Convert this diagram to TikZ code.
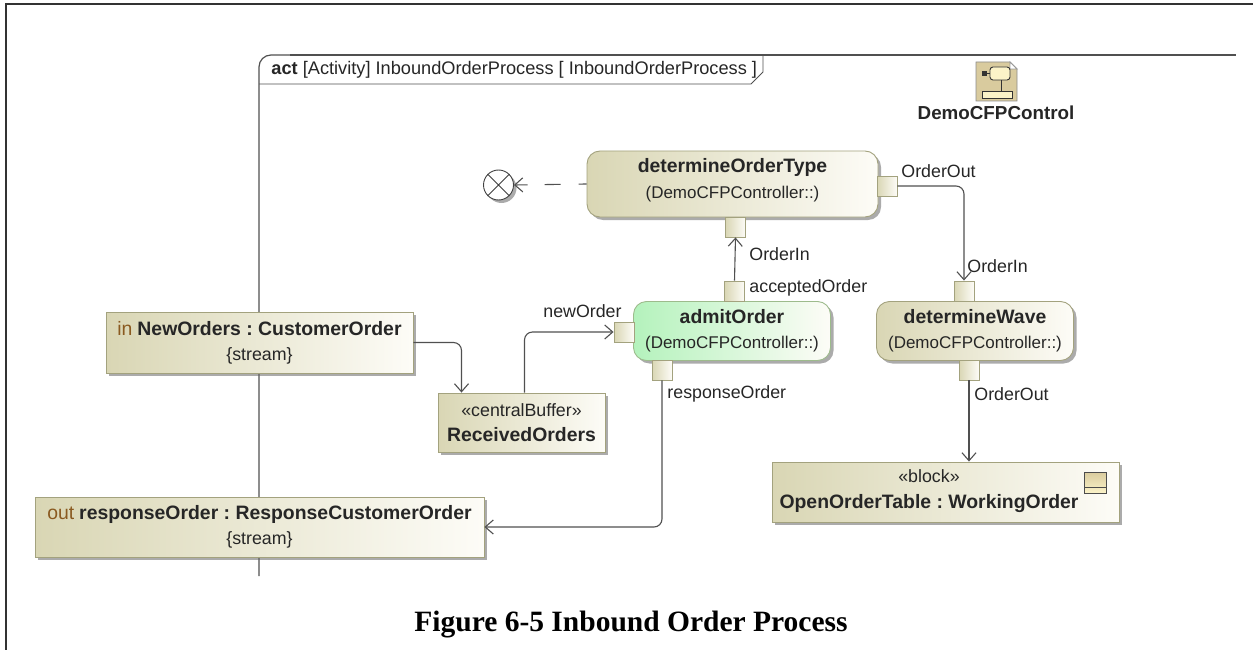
\documentclass[tikz,border=0pt]{standalone}
\usepackage{fontspec}
\setmainfont{Liberation Sans}
\newfontfamily\capfont{Liberation Serif}
\usepackage{xcolor}
\usetikzlibrary{
    arrows.meta,
    shadows
}
\definecolor{edgeline}{HTML}{505050}
\definecolor{boxline}{HTML}{A3A27E}
\definecolor{boxleft}{HTML}{D9D6B4}
\definecolor{boxright}{HTML}{FDFCF7}
\definecolor{greenleft}{HTML}{B4F2BC}
\definecolor{greenline}{HTML}{9DBB8C}
\definecolor{icontan}{HTML}{D9CB9E}
\definecolor{iconcream}{HTML}{FBF3C8}
\definecolor{dirword}{HTML}{8A5A20}
\newcommand{\bigname}[1]{{\fontsize{19.4}{25}\selectfont\bfseries #1}}
\newcommand{\ownername}{{\fontsize{17}{25}\selectfont (DemoCFPController::)}}

\begin{document}
\frenchspacing
\begin{tikzpicture}[x=1pt,y=-1pt,>={Straight Barb[length=8pt,width=14pt]},line width=0.9pt]
    \tikzstyle{every node}=[font=\fontsize{17.8}{25}\selectfont,inner sep=0pt,text=black!85]
    \tikzstyle{softshadow}=[drop shadow={shadow xshift=3pt,shadow yshift=-3pt,fill=black!60,opacity=0.55}]
    \tikzstyle{objbox}=[draw=boxline,left color=boxleft,right color=boxright,align=center,softshadow]
    \tikzstyle{action}=[objbox,rounded corners=13pt]
    \tikzstyle{pinbox}=[draw=boxline,left color=boxleft,right color=boxright,minimum size=20pt]
    \tikzstyle{flow}=[->,draw=edgeline,line width=1.1pt,rounded corners=8pt]
    \useasboundingbox (0,0) rectangle (1253,650);
    % page border
    \draw[black!80,line width=1.3pt] (6,650) -- (6,4) -- (1253,4);
    % activity frame
    \draw[edgeline,line width=1.2pt,rounded corners=12pt] (259,576) -- (259,55) -- (300,55);
    \draw[edgeline,line width=1.2pt] (290,55) -- (1236,55);
    \draw[edgeline] (259,84) -- (751,84) -- (763,72) -- (763,55);
    \node[anchor=west,font=\fontsize{18.2}{20}\selectfont] (frametitle) at (271,69.5) {\textbf{act} [Activity] InboundOrderProcess [ InboundOrderProcess ]};
    % diagram icon
    \draw[black!45,fill=icontan] (976,62) -- (1010,62) -- (1017,69) -- (1017,101) -- (976,101) -- cycle;
    \draw[black!40,fill=white] (1010,62) -- (1017,69) -- (1010,69) -- cycle;
    \fill[black!80] (982,71) rectangle (987,76);
    \draw[black!80] (987,73.5) -- (991,73.5) (1001,80) -- (1001,91);
    \draw[black!80,fill=iconcream,rounded corners=3pt] (990,67) rectangle (1010,80);
    \draw[black!80,fill=iconcream] (982,91) rectangle (1012,98);
    \node[font=\fontsize{18.8}{20}\selectfont\bfseries] (ctrlname) at (996,113) {DemoCFPControl};
    % actions
    \node[action,minimum width=291pt,minimum height=66pt] (dot) at (732.5,184) {};
    \node[align=center] (dottext) at (732.5,180) {\bigname{determineOrderType}\\[1pt]\ownername};
    \node[action,draw=greenline,left color=greenleft,minimum width=197pt,minimum height=59pt] (admit) at (732,331) {\bigname{admitOrder}\\\ownername};
    \node[action,minimum width=197pt,minimum height=59pt] (wave) at (975,331) {\bigname{determineWave}\\\ownername};
    % object nodes
    \node[objbox,minimum width=307pt,minimum height=61pt] (neworders) at (259.5,342.5) {{\bigname{\color{dirword}\mdseries in} \bigname{NewOrders : CustomerOrder}}\\{\{stream\}}};
    \node[objbox,minimum width=449pt,minimum height=60pt] (response) at (259.5,527) {{\bigname{\color{dirword}\mdseries out} \bigname{responseOrder : ResponseCustomerOrder}}\\{\{stream\}}};
    \node[objbox,minimum width=167pt,minimum height=59pt] (received) at (521.5,422.5) {«centralBuffer»\\\bigname{ReceivedOrders}};
    \node[objbox,minimum width=347pt,minimum height=60pt] (opentable) at (945.5,492) {};
    \node[align=center] (opentabletext) at (929,491) {«block»\\[1pt]\bigname{OpenOrderTable : WorkingOrder}};
    % block icon
    \draw[black!70,top color=icontan,bottom color=iconcream] (1084,472) rectangle (1106,493);
    \draw[black!70] (1084,487) -- (1106,487);
    % pins
    \node[pinbox] (dotout) at (887,186) {};
    \node[pinbox] (dotin) at (735.5,227) {};
    \node[pinbox] (admitacc) at (734.5,291) {};
    \node[pinbox] (admitnew) at (624,332) {};
    \node[pinbox] (admitresp) at (662,370) {};
    \node[pinbox] (wavein) at (964,291) {};
    \node[pinbox] (waveout) at (969,370) {};
    % final node
    \node[circle,draw=black!75,fill=white,minimum size=30pt,softshadow] (flowend) at (498.5,185) {};
    \draw[black!75] (flowend.45) -- (flowend.225) (flowend.135) -- (flowend.315);
    % connectors
    \draw[flow,dash pattern=on 8pt off 18pt on 16pt off 17pt on 14pt] (dot.west) -- (flowend.east);
    \draw[flow] (admitacc.north) -- (dotin.south);
    \draw[flow] (waveout.south) -- (waveout.south |- opentable.north);
    \draw[flow] (dotout.east) -| (wavein.north);
    \draw[flow] (neworders.east) -| ([xshift=-60pt]received.north);
    \draw[flow] ([xshift=3pt]received.north) |- (admitnew.west);
    \draw[flow] (admitresp.south) |- (response.east);
    % pin labels
    \node[anchor=west] (lbloo) at (901,171) {OrderOut};
    \node[anchor=west] (lbldi) at (749,254) {OrderIn};
    \node[anchor=west] (lblacc) at (749,288) {acceptedOrder};
    \node[anchor=east] (lblnew) at (622,311) {newOrder};
    \node[anchor=west] (lblwi) at (967,266) {OrderIn};
    \node[anchor=west] (lblresp) at (667,394) {responseOrder};
    \node[anchor=west] (lblwo) at (974,394) {OrderOut};
    % caption
    \node[font=\capfont\fontsize{29.5}{32}\selectfont\bfseries,text=black] (caption) at (631,625) {Figure 6-5 Inbound Order Process};
\end{tikzpicture}
\end{document}
